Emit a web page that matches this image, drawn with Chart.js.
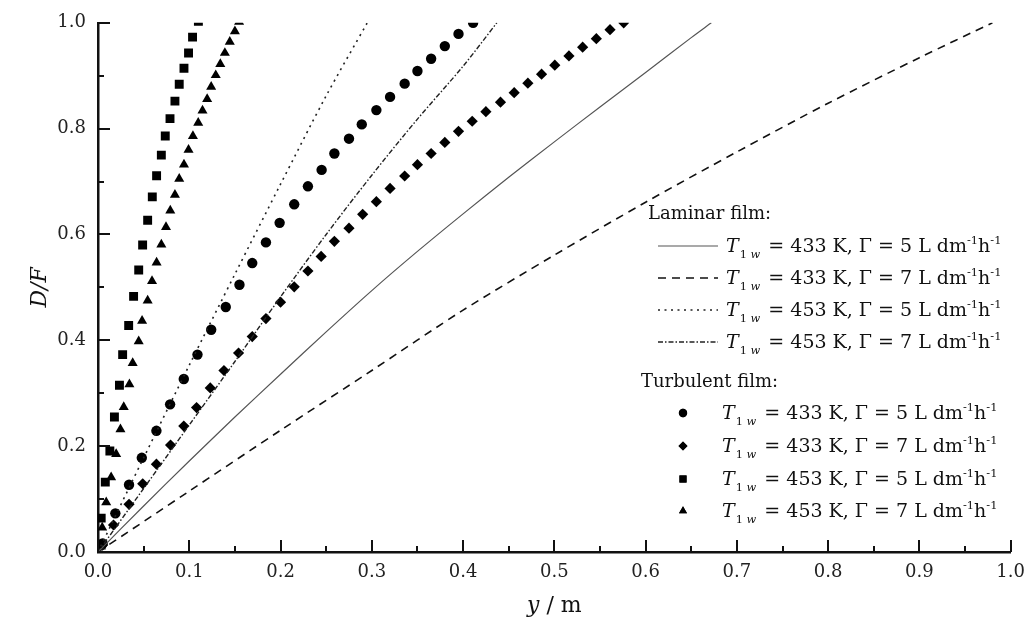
<!DOCTYPE html>
<html>
<head>
<meta charset="utf-8">
<script src="https://cdn.jsdelivr.net/npm/chart.js@4.4.1/dist/chart.umd.min.js"></script>
<style>
  html, body { margin: 0; padding: 0; background: #fff; }
  #wrap { width: 1035px; height: 628px; }
</style>
</head>
<body>
<div id="wrap"><canvas id="c" width="1035" height="628"></canvas></div>
<script>
// ---- laminar film (model curves) ----
const lamX_433_5 = [0, 0.05, 0.1, 0.15, 0.2, 0.25, 0.3, 0.35, 0.4, 0.45, 0.5, 0.55, 0.6, 0.65, 0.672];
const lamY_433_5 = [0, 0.087, 0.172, 0.255, 0.336, 0.416, 0.494, 0.568, 0.639, 0.708, 0.775, 0.841, 0.906, 0.972, 1.0];
const lamX_433_7 = [0, 0.1, 0.2, 0.3, 0.4, 0.5, 0.6, 0.7, 0.8, 0.9, 0.98];
const lamY_433_7 = [0, 0.115, 0.23, 0.343, 0.457, 0.561, 0.661, 0.756, 0.848, 0.934, 1.0];
const lamX_453_5 = [0, 0.05, 0.1, 0.15, 0.2, 0.25, 0.295];
const lamY_453_5 = [0, 0.178, 0.353, 0.525, 0.695, 0.862, 1.0];
const lamX_453_7 = [0, 0.05, 0.1, 0.15, 0.2, 0.25, 0.3, 0.35, 0.4, 0.437];
const lamY_453_7 = [0, 0.12, 0.24, 0.36, 0.482, 0.60, 0.712, 0.818, 0.918, 1.0];

// ---- turbulent film (points) ----
const turX_433_5 = [0.005, 0.019, 0.034, 0.048, 0.064, 0.079, 0.094, 0.109, 0.124, 0.140, 0.155, 0.169, 0.184, 0.199,
  0.215, 0.230, 0.245, 0.259, 0.275, 0.289, 0.305, 0.320, 0.336, 0.350, 0.365, 0.380, 0.395, 0.411];
const turY_433_5 = [0.016, 0.073, 0.127, 0.178, 0.229, 0.279, 0.327, 0.373, 0.420, 0.463, 0.505, 0.546, 0.585, 0.622,
  0.657, 0.691, 0.722, 0.753, 0.781, 0.808, 0.835, 0.860, 0.885, 0.909, 0.932, 0.956, 0.979, 1.0];
const turX_433_7 = [0.005, 0.017, 0.034, 0.049, 0.064, 0.0795, 0.094, 0.108, 0.123, 0.138, 0.154, 0.169, 0.184, 0.200,
  0.215, 0.230, 0.2445, 0.259, 0.275, 0.290, 0.305, 0.320, 0.336, 0.350, 0.365, 0.380, 0.395, 0.410, 0.425, 0.441,
  0.456, 0.471, 0.486, 0.5005, 0.516, 0.531, 0.546, 0.561, 0.576];
const turY_433_7 = [0.013, 0.051, 0.090, 0.129, 0.166, 0.202, 0.238, 0.273, 0.310, 0.343, 0.376, 0.407, 0.441, 0.472,
  0.501, 0.531, 0.5585, 0.587, 0.612, 0.638, 0.662, 0.687, 0.7105, 0.732, 0.753, 0.774, 0.795, 0.814, 0.832, 0.850,
  0.868, 0.886, 0.903, 0.920, 0.9375, 0.954, 0.970, 0.987, 1.0];
const turX_453_5 = [0.0035, 0.0035, 0.008, 0.013, 0.018, 0.0235, 0.027, 0.0336, 0.039, 0.0446, 0.0489, 0.0544, 0.0595,
  0.0642, 0.0694, 0.0737, 0.0789, 0.0843, 0.089, 0.0942, 0.0992, 0.1036, 0.110];
const turY_453_5 = [0.013, 0.064, 0.132, 0.191, 0.255, 0.315, 0.373, 0.428, 0.483, 0.533, 0.580, 0.627, 0.671,
  0.711, 0.750, 0.786, 0.819, 0.852, 0.884, 0.914, 0.943, 0.973, 1.003];
const turX_453_7 = [0.0046, 0.009, 0.0144, 0.0199, 0.0246, 0.0282, 0.0344, 0.038, 0.0446, 0.0483, 0.0544, 0.0592,
  0.0642, 0.0694, 0.0745, 0.0792, 0.0843, 0.089, 0.0942, 0.0992, 0.104, 0.1098, 0.1145, 0.1196, 0.124, 0.129, 0.134,
  0.139, 0.1444, 0.150, 0.1546];
const turY_453_7 = [0.046, 0.094, 0.141, 0.185, 0.232, 0.274, 0.317, 0.357, 0.398, 0.437, 0.475, 0.512,
  0.547, 0.581, 0.614, 0.645, 0.675, 0.705, 0.732, 0.760, 0.786, 0.811, 0.834, 0.856, 0.879, 0.901, 0.922,
  0.943, 0.964, 0.984, 1.002];

// legend text pieces
const legTemps  = ['433', '433', '453', '453'];
const legGammas = ['5', '7', '5', '7'];
const xTitle = ['y', ' / m'];
const yTitle = 'D/F';

const FONT = '"DejaVu Serif", "Liberation Serif", serif';
const zip = (xs, ys) => xs.map((x, i) => ({ x, y: ys[i] }));

const lineSet = (xs, ys, dash, width, color) => ({
  data: zip(xs, ys), showLine: true, pointRadius: 0, borderColor: color, borderWidth: width,
  borderDash: dash, fill: false, tension: 0.3, clip: 0,
});
const pointSet = (xs, ys, style, r) => ({
  data: zip(xs, ys), showLine: false, pointStyle: style, pointRadius: r, pointBorderWidth: 0,
  backgroundColor: '#000', borderColor: '#000', clip: 0,
});

const datasets = [
  lineSet(lamX_433_5, lamY_433_5, [], 1.2, '#555'),
  lineSet(lamX_433_7, lamY_433_7, [8, 6], 1.6, '#111'),
  lineSet(lamX_453_5, lamY_453_5, [2, 4.5], 1.6, '#222'),
  lineSet(lamX_453_7, lamY_453_7, [5, 2, 1.5, 2], 1.4, '#222'),
  pointSet(turX_433_5, turY_433_5, 'circle', 5.2),
  pointSet(turX_433_7, turY_433_7, 'rectRot', 5.6),
  pointSet(turX_453_5, turY_453_5, 'rect', 6.3),
  pointSet(turX_453_7, turY_453_7, 'triangle', 5.8),
];

// draw a row of text pieces (sub/superscripts, italics)
function drawRuns(ctx, x, y, runs, size) {
  ctx.textBaseline = 'alphabetic';
  ctx.textAlign = 'left';
  for (const r of runs) {
    const s = r.small ? size * 0.6 : size;
    ctx.font = (r.it ? 'italic ' : '') + s + 'px ' + FONT;
    const dy = r.sub ? size * 0.32 : r.sup ? -size * 0.42 : 0;
    ctx.fillText(r.t, x, y + dy);
    x += ctx.measureText(r.t).width + (r.gap || 0);
  }
  return x;
}
const labelRuns = (t, g) => [
  { t: 'T', it: 1, gap: 1 }, { t: '1 ', small: 1, sub: 1 }, { t: 'w', small: 1, sub: 1, it: 1, gap: 2 },
  { t: ' = ' + t + ' K, \u0393 = ' + g + ' L dm' }, { t: '-1', small: 1, sup: 1 }, { t: 'h' },
  { t: '-1', small: 1, sup: 1 },
];

const legendPlugin = {
  id: 'paperLegend',
  afterDraw(chart) {
    const ctx = chart.ctx;
    ctx.save();
    ctx.fillStyle = '#111';
    const size = 19;
    // laminar block
    drawRuns(ctx, 648, 219, [{ t: 'Laminar film:' }], 18);
    const lamY = [246, 278, 310, 342];
    for (let i = 0; i < 4; i++) {
      const ds = chart.data.datasets[i];
      ctx.beginPath();
      ctx.setLineDash(ds.borderDash);
      ctx.lineWidth = ds.borderWidth;
      ctx.strokeStyle = ds.borderColor;
      ctx.moveTo(658, lamY[i]);
      ctx.lineTo(718, lamY[i]);
      ctx.stroke();
      ctx.setLineDash([]);
      drawRuns(ctx, 726, lamY[i] + 6, labelRuns(legTemps[i], legGammas[i]), size);
    }
    // turbulent block
    drawRuns(ctx, 641, 387, [{ t: 'Turbulent film:' }], 18);
    const turY = [413, 446, 479, 511];
    for (let i = 0; i < 4; i++) {
      const ds = chart.data.datasets[4 + i];
      ctx.fillStyle = '#000';
      Chart.helpers.drawPoint(ctx, { pointStyle: ds.pointStyle, radius: ds.pointRadius * 0.8, borderWidth: 0 }, 683, turY[i]);
      ctx.fill();
      ctx.fillStyle = '#111';
      drawRuns(ctx, 722, turY[i] + 6, labelRuns(legTemps[i], legGammas[i]), size);
    }
    ctx.restore();
  }
};

// inward major/minor ticks plus axis titles
const axisDecor = {
  id: 'axisDecor',
  afterDraw(chart) {
    const { ctx, chartArea: a, scales: { x, y } } = chart;
    ctx.save();
    ctx.strokeStyle = '#111';
    ctx.lineWidth = 2;
    ctx.beginPath();
    for (let i = 0; i <= 20; i++) {
      const px = Math.round(x.getPixelForValue(i * 0.05));
      const len = i % 2 ? 6 : 12;
      ctx.moveTo(px, a.bottom); ctx.lineTo(px, a.bottom - len);
    }
    for (let i = 0; i <= 10; i++) {
      const py = Math.round(y.getPixelForValue(i * 0.1));
      const len = i % 2 ? 6 : 12;
      ctx.moveTo(a.left, py); ctx.lineTo(a.left + len, py);
    }
    ctx.stroke();

    ctx.fillStyle = '#111';
    // x title
    ctx.font = 'italic 22px ' + FONT;
    const w1 = ctx.measureText(xTitle[0]).width;
    ctx.font = '22px ' + FONT;
    const w2 = ctx.measureText(xTitle[1]).width;
    drawRuns(ctx, (a.left + a.right) / 2 - (w1 + w2) / 2, 612, [{ t: xTitle[0], it: 1 }, { t: xTitle[1] }], 22);
    // y title
    ctx.translate(40, (a.top + a.bottom) / 2);
    ctx.rotate(-Math.PI / 2);
    ctx.font = 'italic 22px ' + FONT;
    ctx.textAlign = 'center';
    ctx.textBaseline = 'middle';
    ctx.fillText(yTitle, 0, 0);
    ctx.restore();
  }
};

new Chart(document.getElementById('c'), {
  type: 'scatter',
  data: { datasets },
  options: {
    responsive: false,
    animation: false,
    layout: { padding: { top: 19, right: 20, left: 0, bottom: 0 } },
    plugins: { legend: { display: false }, tooltip: { enabled: false } },
    scales: {
      x: {
        type: 'linear', min: 0, max: 1,
        grid: { display: false, drawTicks: false },
        border: { display: true, color: '#111', width: 2.5 },
        ticks: { stepSize: 0.1, padding: 10, color: '#222', font: { family: FONT, size: 18 },
          callback: v => v.toFixed(1) },
        afterFit: s => { s.height = 76; },
      },
      y: {
        type: 'linear', min: 0, max: 1,
        grid: { display: false, drawTicks: false },
        border: { display: true, color: '#111', width: 2.5 },
        ticks: { stepSize: 0.2, padding: 12, color: '#222', font: { family: FONT, size: 18 },
          callback: v => v.toFixed(1) },
        afterFit: s => { s.width = 98; },
      },
    },
  },
  plugins: [axisDecor, legendPlugin],
});
</script>
</body>
</html>
